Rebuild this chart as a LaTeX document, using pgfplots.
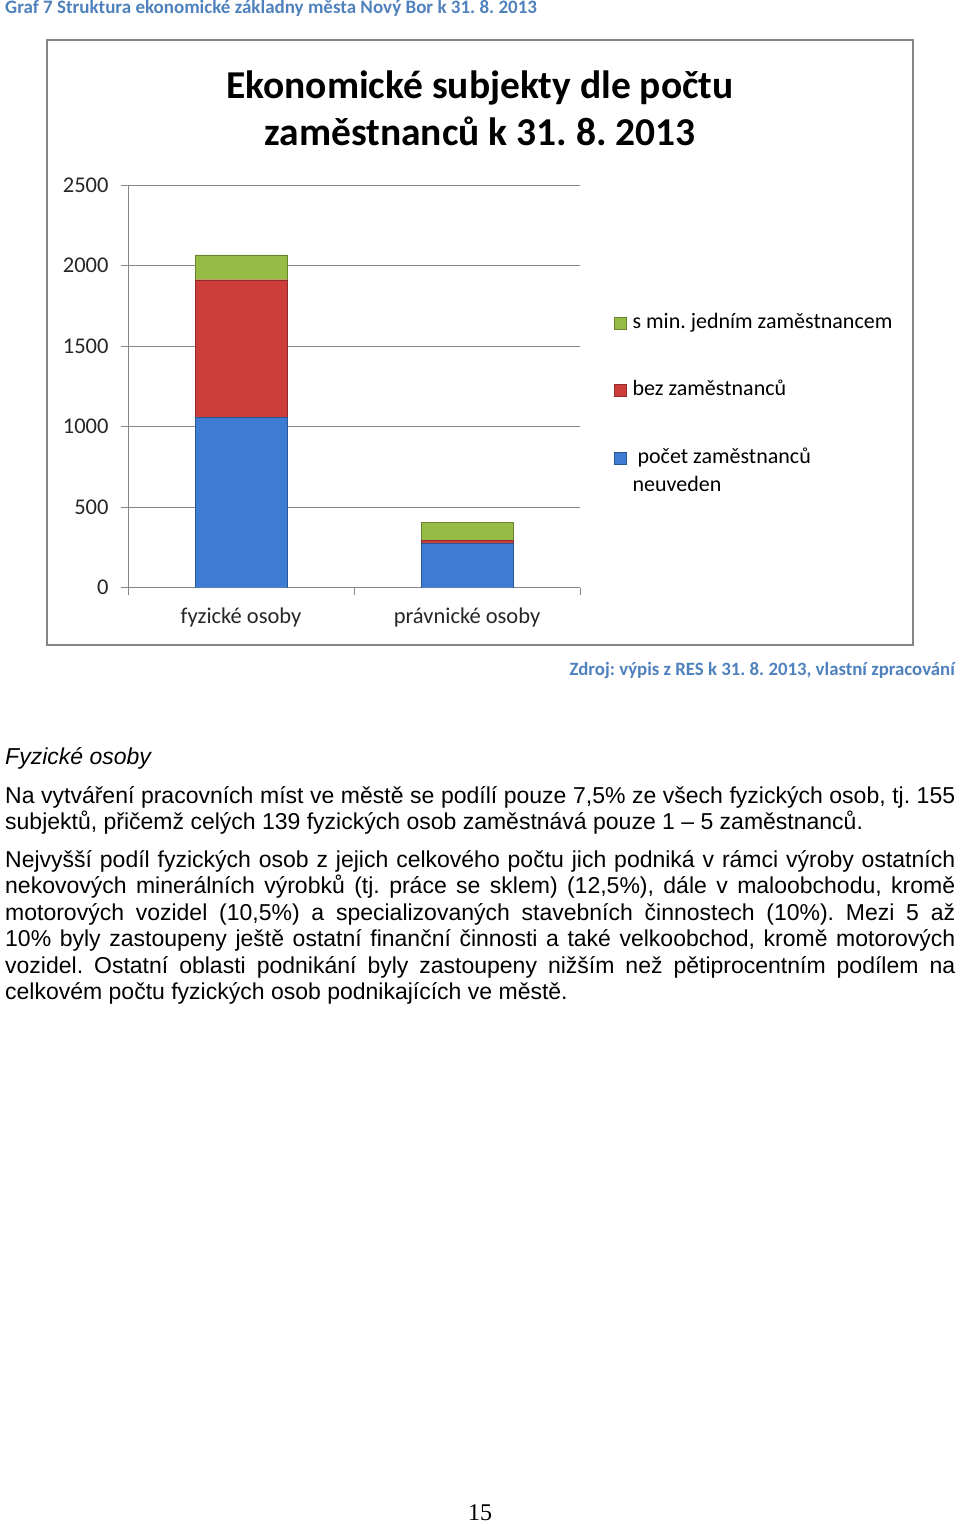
\documentclass[border=0pt]{standalone}
\usepackage{fontspec}
\setmainfont{Liberation Sans}
\newfontfamily\calfont{Carlito}
\newfontfamily\tmsfont{Liberation Serif}
\usepackage{pgfplots}
\pgfplotsset{compat=1.18}
\frenchspacing
\definecolor{axisgray}{RGB}{134,134,134}
\definecolor{cblue}{RGB}{62,124,212}
\definecolor{cred}{RGB}{205,62,58}
\definecolor{cgreen}{RGB}{150,188,70}
\definecolor{headblue}{RGB}{79,129,189}
\pgfplotsset{myleg/.style={legend image code/.code={\draw[##1,/tikz/.cd] (0bp,-1bp) rectangle (12bp,11bp);}}}
\newcommand\bodyfont{\fontsize{23bp}{26.5bp}\selectfont}
\newcommand\jl[2]{\node[anchor=base west,inner sep=0pt,font=\bodyfont] at (5bp,-#1bp) {\makebox[950bp][s]{#2}};}
\newcommand\nl[2]{\node[anchor=base west,inner sep=0pt,font=\bodyfont] at (5bp,-#1bp) {#2};}
\begin{document}
\begin{tikzpicture}
\path[use as bounding box] (0,0) rectangle (960bp,-1524bp);
% heading
\node[anchor=base west,inner sep=0pt,font=\calfont\bfseries\fontsize{19bp}{22bp}\selectfont,text=headblue] at (5bp,-13.5bp) {Graf 7 Struktura ekonomické základny města Nový Bor k 31. 8. 2013};
% chart frame
\draw[axisgray,line width=1.6bp] (47bp,-40bp) rectangle (913bp,-645bp);
% chart title
\node[anchor=base,inner sep=0pt,font=\calfont\bfseries\fontsize{39.5bp}{44bp}\selectfont] at (480bp,-98bp) {Ekonomické subjekty dle počtu};
\node[anchor=base,inner sep=0pt,font=\calfont\bfseries\fontsize{39.5bp}{44bp}\selectfont] at (480bp,-145bp) {zaměstnanců k 31. 8. 2013};
\begin{axis}[
  at={(128bp,-587.7bp)}, anchor=south west,
  scale only axis, width=452bp, height=402.7bp,
  xmin=-0.5, xmax=1.5, ymin=0, ymax=2500,
  ybar stacked, bar width=92bp,
  axis x line*=bottom, axis y line*=left,
  axis line style={draw=axisgray, line width=0.8bp, -},
  ymajorgrids, grid style={axisgray, line width=0.8bp},
  ytick={0,500,...,2500},
  xtick={-0.5,0.5,1.5}, xticklabels={},
  extra x ticks={0,1}, extra x tick labels={fyzické osoby, právnické osoby},
  extra x tick style={major tick length=0pt, grid=none},
  tick align=outside, major tick length=7bp,
  tick style={axisgray, line width=0.8bp},
  /pgf/number format/assume math mode=true,
  /pgf/number format/1000 sep={},
  tick label style={font=\calfont\fontsize{22.5bp}{26bp}\selectfont, text=black!85},
  yticklabel style={xshift=-9bp},
  xticklabel style={yshift=-17bp},
  legend style={at={(1.0752,0.6797)}, anchor=north west, draw=none, fill=none,
    inner sep=0pt, row sep=49.5bp, column sep=6bp,
    font=\calfont\fontsize{22bp}{28bp}\selectfont,
    nodes={inner sep=0pt, text height=14bp, text depth=4bp},
    cells={anchor=base west}},
  reverse legend,
]
\addplot[fill=cblue, draw=cblue!70!black, line width=0.4bp, myleg] coordinates {(0,1056) (1,276)};
\addlegendentry{\vtop{\hbox{\hspace*{5bp}počet zaměstnanců}\hbox{neuveden}}}
\addplot[fill=cred, draw=cred!70!black, line width=0.4bp, myleg] coordinates {(0,856) (1,16)};
\addlegendentry{bez zaměstnanců}
\addplot[fill=cgreen, draw=cgreen!70!black, line width=0.4bp, myleg] coordinates {(0,155) (1,112)};
\addlegendentry{s min. jedním zaměstnancem}
\end{axis}
% source
\node[anchor=base east,inner sep=0pt,font=\calfont\bfseries\fontsize{18.8bp}{22bp}\selectfont,text=headblue] at (955bp,-675.7bp) {Zdroj: výpis z RES k 31. 8. 2013, vlastní zpracování};
% body text
\node[anchor=base west,inner sep=0pt,font=\bodyfont\itshape] at (5bp,-764bp) {Fyzické osoby};
\jl{803}{Na vytváření pracovních míst ve městě se podílí pouze 7,5\% ze všech fyzických osob, tj. 155}
\nl{829.3}{subjektů, přičemž celých 139 fyzických osob zaměstnává pouze 1 – 5 zaměstnanců.}
\jl{867.3}{Nejvyšší podíl fyzických osob z jejich celkového počtu jich podniká v rámci výroby ostatních}
\jl{893.8}{nekovových minerálních výrobků (tj. práce se sklem) (12,5\%), dále v maloobchodu, kromě}
\jl{920.3}{motorových vozidel (10,5\%) a specializovaných stavebních činnostech (10\%). Mezi 5 až}
\jl{946.8}{10\% byly zastoupeny ještě ostatní finanční činnosti a také velkoobchod, kromě motorových}
\jl{973.3}{vozidel. Ostatní oblasti podnikání byly zastoupeny nižším než pětiprocentním podílem na}
\nl{999.8}{celkovém počtu fyzických osob podnikajících ve městě.}
% page number
\node[anchor=base,inner sep=0pt,font=\tmsfont\fontsize{24bp}{28bp}\selectfont] at (480bp,-1520.7bp) {15};
\end{tikzpicture}
\end{document}
